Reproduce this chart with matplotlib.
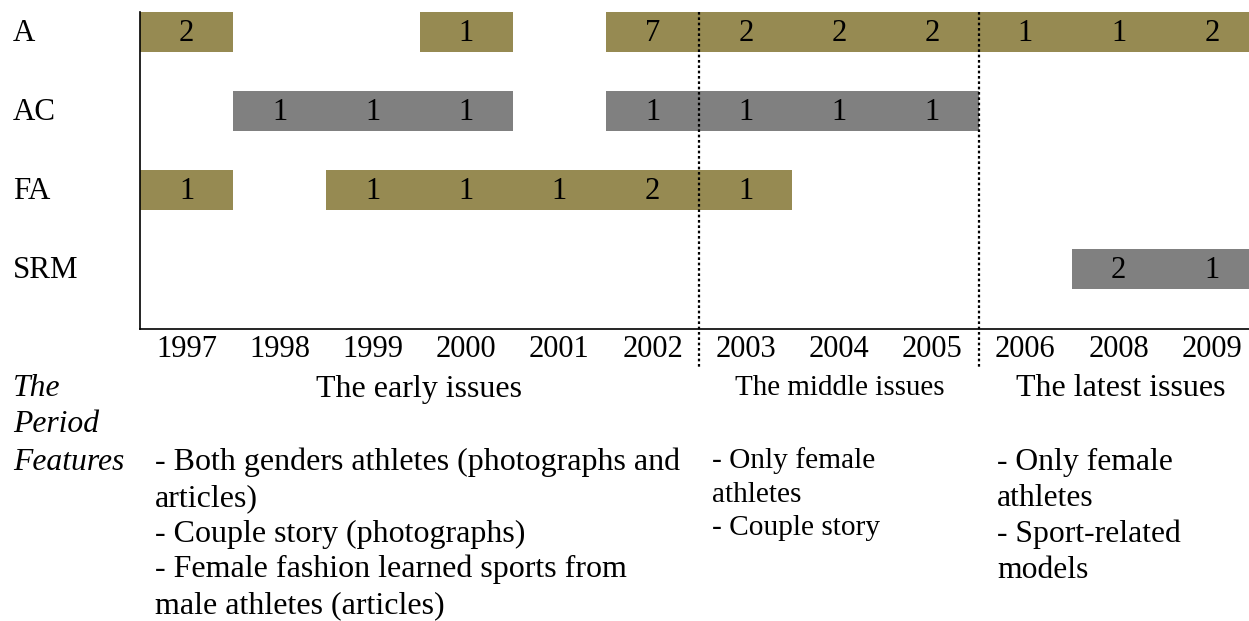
import matplotlib
matplotlib.use("Agg")
import matplotlib.pyplot as plt
from matplotlib.transforms import blended_transform_factory

plt.rcParams['font.family'] = ['Liberation Serif', 'DejaVu Serif']

years = ["1997", "1998", "1999", "2000", "2001", "2002", "2003", "2004", "2005", "2006", "2008", "2009"]
rows = ["A", "AC", "FA", "SRM"]
row_colors = ["#968A52", "#808080", "#968A52", "#808080"]
# counts per row per year (None = no bar)
A_vals   = [2, None, None, 1, None, 7, 2, 2, 2, 1, 1, 2]
AC_vals  = [None, 1, 1, 1, None, 1, 1, 1, 1, None, None, None]
FA_vals  = [1, None, 1, 1, 1, 2, 1, None, None, None, None, None]
SRM_vals = [None, None, None, None, None, None, None, None, None, None, 2, 1]
period_breaks = [6, 9]  # column index where a new period starts
period_names = ["The early issues", "The middle issues", "The latest issues"]
features_early = ["- Both genders athletes (photographs and", "articles)",
                  "- Couple story (photographs)", "- Female fashion learned sports from",
                  "male athletes (articles)"]
features_middle = ["- Only female", "athletes", "- Couple story"]
features_latest = ["- Only female", "athletes", "- Sport-related", "models"]
side_labels = ["The", "Period", "Features"]

W, H = 1249, 621
fig = plt.figure(figsize=(W / 100, H / 100), dpi=100)

col_w = 93.2
ax_left, ax_top, ax_bottom = 140, 12, 329
ax_right = ax_left + col_w * len(years)
ax = fig.add_axes([ax_left / W, 1 - ax_bottom / H, (ax_right - ax_left) / W, (ax_bottom - ax_top) / H])

all_vals = [A_vals, AC_vals, FA_vals, SRM_vals]
bar_h = 0.506
base_off = 0.12  # baseline offset below row centre (data units)
for r, vals in enumerate(all_vals):
    for c, v in enumerate(vals):
        if v is None:
            continue
        ax.barh(r, 1, left=c, height=bar_h, color=row_colors[r], edgecolor='none', linewidth=0)
        ax.text(c + 0.5, r + base_off, str(v), ha='center', va='baseline', fontsize=22, color='black')

ax.set_xlim(0, len(years))
ax.set_ylim(3.76, -bar_h / 2)
ax.spines['top'].set_visible(False)
ax.spines['right'].set_visible(False)
ax.spines['left'].set_linewidth(1.2)
ax.spines['bottom'].set_linewidth(1.2)
ax.set_xticks([i + 0.5 for i in range(len(years))])
ax.set_xticklabels(years, fontsize=22, va='baseline')
ax.tick_params(axis='x', length=0, pad=20.2)
ax.set_yticks([])

# row labels
tr_rows = blended_transform_factory(fig.transFigure, ax.transData)
for r, name in enumerate(rows):
    fig.text(13 / W, r + base_off, name, transform=tr_rows, ha='left', va='baseline', fontsize=22.3)

# dotted period separators
tr_sep = blended_transform_factory(ax.transData, fig.transFigure)
for b in period_breaks:
    ax.plot([b, b], [1 - ax_top / H, 1 - 368 / H], transform=tr_sep, color='black',
            linestyle=(0, (1.2, 1.2)), linewidth=1.6, clip_on=False)

def fy(py):
    return 1 - py / H

# side labels
for i, s in enumerate(side_labels):
    fig.text(13 / W, fy([396, 432, 470][i]), s, ha='left', va='baseline', fontsize=22.8, style='italic')

# period names
fig.text(419 / W, fy(397), period_names[0], ha='center', va='baseline', fontsize=23)
fig.text(840 / W, fy(395), period_names[1], ha='center', va='baseline', fontsize=20.9)
fig.text(1121 / W, fy(396), period_names[2], ha='center', va='baseline', fontsize=23)

for i, s in enumerate(features_early):
    fig.text(155 / W, fy(470 + 35.8 * i), s, ha='left', va='baseline', fontsize=23)
for i, s in enumerate(features_middle):
    fig.text(712 / W, fy(468 + 33.5 * i), s, ha='left', va='baseline', fontsize=21.2)
for i, s in enumerate(features_latest):
    fig.text(997 / W, fy(470 + 36 * i), s, ha='left', va='baseline', fontsize=22.8)

fig.savefig("out.png", dpi=100)
